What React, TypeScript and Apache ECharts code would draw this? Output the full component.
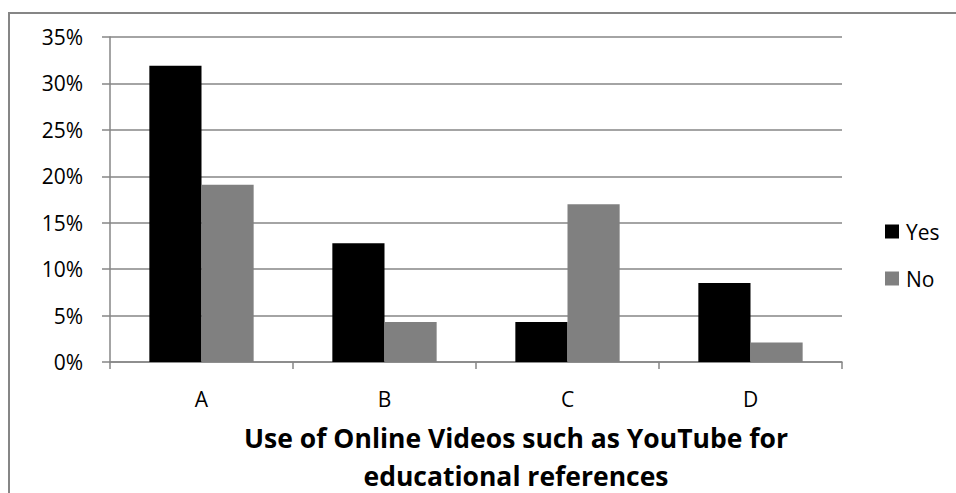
import React, { useEffect, useRef } from "react";
import * as echarts from "echarts";

const categories = ["A", "B", "C", "D"];
const yesValues = [31.9, 12.8, 4.3, 8.5];
const noValues = [19.1, 4.3, 17.0, 2.1];
const seriesNames = ["Yes", "No"];
const titleLines = ["Use of Online Videos such as YouTube for", "educational references"];

const FONT = "'Open Sans', sans-serif";
const GRID = "#868686";

export default function App() {
  const ref = useRef<HTMLDivElement>(null);
  useEffect(() => {
    if (!ref.current) return;
    const chart = echarts.init(ref.current, null, { renderer: "svg" });
    chart.setOption({
      animation: false,
      backgroundColor: "#ffffff",
      textStyle: { fontFamily: FONT },
      grid: { left: 110, right: 114, top: 37, bottom: 131, containLabel: false },
      legend: {
        orient: "vertical",
        left: 880,
        top: 216,
        icon: "rect",
        itemWidth: 14,
        itemHeight: 14,
        itemGap: 26,
        data: seriesNames,
        textStyle: { fontFamily: FONT, fontSize: 21, color: "#000", padding: [0, 0, 0, 2] },
      },
      xAxis: {
        type: "category",
        data: categories,
        axisLine: { show: true, lineStyle: { color: GRID, width: 1.5 } },
        axisTick: { show: true, length: 7, lineStyle: { color: GRID, width: 1.5 } },
        axisLabel: { margin: 26, fontSize: 21, color: "#000", fontFamily: FONT },
      },
      yAxis: {
        type: "value",
        min: 0,
        max: 35,
        interval: 5,
        axisLine: { show: true, lineStyle: { color: GRID, width: 1.5 } },
        axisTick: { show: true, length: 8, lineStyle: { color: GRID, width: 1.5 } },
        splitLine: { show: true, lineStyle: { color: GRID, width: 1.5 } },
        axisLabel: { margin: 27, fontSize: 21, color: "#000", fontFamily: FONT, formatter: "{value}%" },
      },
      series: [
        {
          name: seriesNames[0],
          type: "bar",
          data: yesValues,
          barGap: "0%",
          barCategoryGap: "43%",
          itemStyle: { color: "#000000" },
        },
        {
          name: seriesNames[1],
          type: "bar",
          data: noValues,
          barGap: "0%",
          barCategoryGap: "43%",
          itemStyle: { color: "#808080" },
        },
      ],
      graphic: [
        {
          type: "rect",
          shape: { x: 9, y: 13, width: 1000, height: 600 },
          style: { fill: "none", stroke: "#868686", lineWidth: 2 },
          silent: true,
        },
        {
          type: "text",
          x: 516,
          y: 438,
          style: {
            text: titleLines[0],
            fontFamily: FONT,
            fontWeight: "bold",
            fontSize: 26.5,
            lineHeight: 28,
            fill: "#000",
            textAlign: "center",
            textVerticalAlign: "middle",
          },
        },
        {
          type: "text",
          x: 516,
          y: 475.5,
          style: {
            text: titleLines[1],
            fontFamily: FONT,
            fontWeight: "bold",
            fontSize: 26.5,
            lineHeight: 28,
            fill: "#000",
            textAlign: "center",
            textVerticalAlign: "middle",
          },
        },
      ],
    });
    return () => chart.dispose();
  }, []);
  return (
    <div
      ref={ref}
      style={{ position: "fixed", left: 0, top: 0, width: 956, height: 493, background: "#fff" }}
    />
  );
}
